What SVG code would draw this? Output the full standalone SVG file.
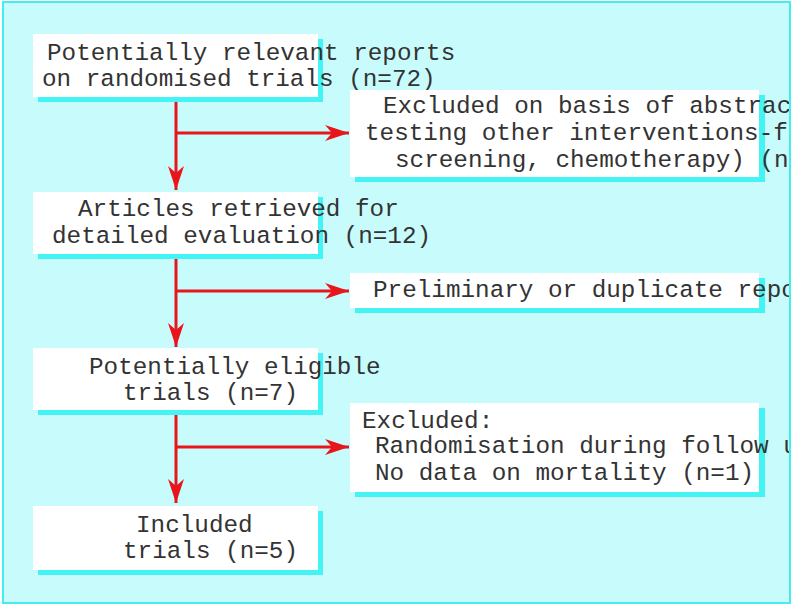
<svg xmlns="http://www.w3.org/2000/svg" width="795" height="607" viewBox="0 0 795 607">
<style>
.bg{fill:#c8fcfc;stroke:#44eeee;stroke-width:2}
.box{fill:#ffffff}
.sh{fill:#44f4f4}
.t{font-family:"Liberation Mono","DejaVu Sans Mono",monospace;font-size:24.3px;fill:#333333}
.c{stroke:#e8161c;stroke-width:3;fill:none}
</style>
<defs>
<clipPath id="frame"><rect x="4" y="3" width="785" height="599"/></clipPath>
<marker id="ah" markerUnits="userSpaceOnUse" markerWidth="30" markerHeight="20" viewBox="-26 -10 28 20" refX="0" refY="0" orient="auto">
<path d="M0,0 L-24,-8 L-17,0 L-24,8 Z" fill="#e8161c"/>
</marker>
</defs>
<rect class="bg" x="3" y="2" width="787" height="601"/>
<g clip-path="url(#frame)">
<g id="connectors">
<line class="c" x1="176" y1="97" x2="176" y2="190" marker-end="url(#ah)"/>
<line class="c" x1="176" y1="133" x2="349" y2="133" marker-end="url(#ah)"/>
<line class="c" x1="176" y1="254" x2="176" y2="347" marker-end="url(#ah)"/>
<line class="c" x1="176" y1="291" x2="349" y2="291" marker-end="url(#ah)"/>
<line class="c" x1="176" y1="410" x2="176" y2="503" marker-end="url(#ah)"/>
<line class="c" x1="176" y1="447" x2="349" y2="447" marker-end="url(#ah)"/>
</g>
<g id="n1">
<rect class="sh" x="38" y="39" width="285" height="63"/>
<rect class="box" x="33" y="34" width="285" height="63"/>
<text class="t" x="47" y="60">Potentially relevant reports</text>
<text class="t" x="42" y="86">on randomised trials (n=72)</text>
</g>
<g id="n2">
<rect class="sh" x="355" y="95" width="410" height="87"/>
<rect class="box" x="350" y="90" width="409" height="87"/>
<text class="t" x="383" y="113">Excluded on basis of abstract</text>
<text class="t" x="365" y="140">testing other interventions-for</text>
<text class="t" x="395" y="167">screening, chemotherapy) (n=60)</text>
</g>
<g id="n3">
<rect class="sh" x="38" y="197" width="285" height="62"/>
<rect class="box" x="33" y="192" width="285" height="62"/>
<text class="t" x="78" y="216">Articles retrieved for</text>
<text class="t" x="52" y="243">detailed evaluation (n=12)</text>
</g>
<g id="n4">
<rect class="sh" x="355" y="278" width="410" height="35"/>
<rect class="box" x="350" y="273" width="409" height="35"/>
<text class="t" x="373" y="297">Preliminary or duplicate reports</text>
</g>
<g id="n5">
<rect class="sh" x="38" y="353" width="285" height="62"/>
<rect class="box" x="33" y="348" width="285" height="62"/>
<text class="t" x="89" y="374">Potentially eligible</text>
<text class="t" x="123" y="400">trials (n=7)</text>
</g>
<g id="n6">
<rect class="sh" x="355" y="408" width="410" height="89"/>
<rect class="box" x="350" y="403" width="409" height="89"/>
<text class="t" x="362" y="428">Excluded:</text>
<text class="t" x="375" y="453">Randomisation during follow up</text>
<text class="t" x="375" y="480">No data on mortality (n=1)</text>
</g>
<g id="n7">
<rect class="sh" x="38" y="511" width="285" height="64"/>
<rect class="box" x="33" y="506" width="285" height="64"/>
<text class="t" x="136" y="532">Included</text>
<text class="t" x="123" y="558">trials (n=5)</text>
</g>
</g>
</svg>
